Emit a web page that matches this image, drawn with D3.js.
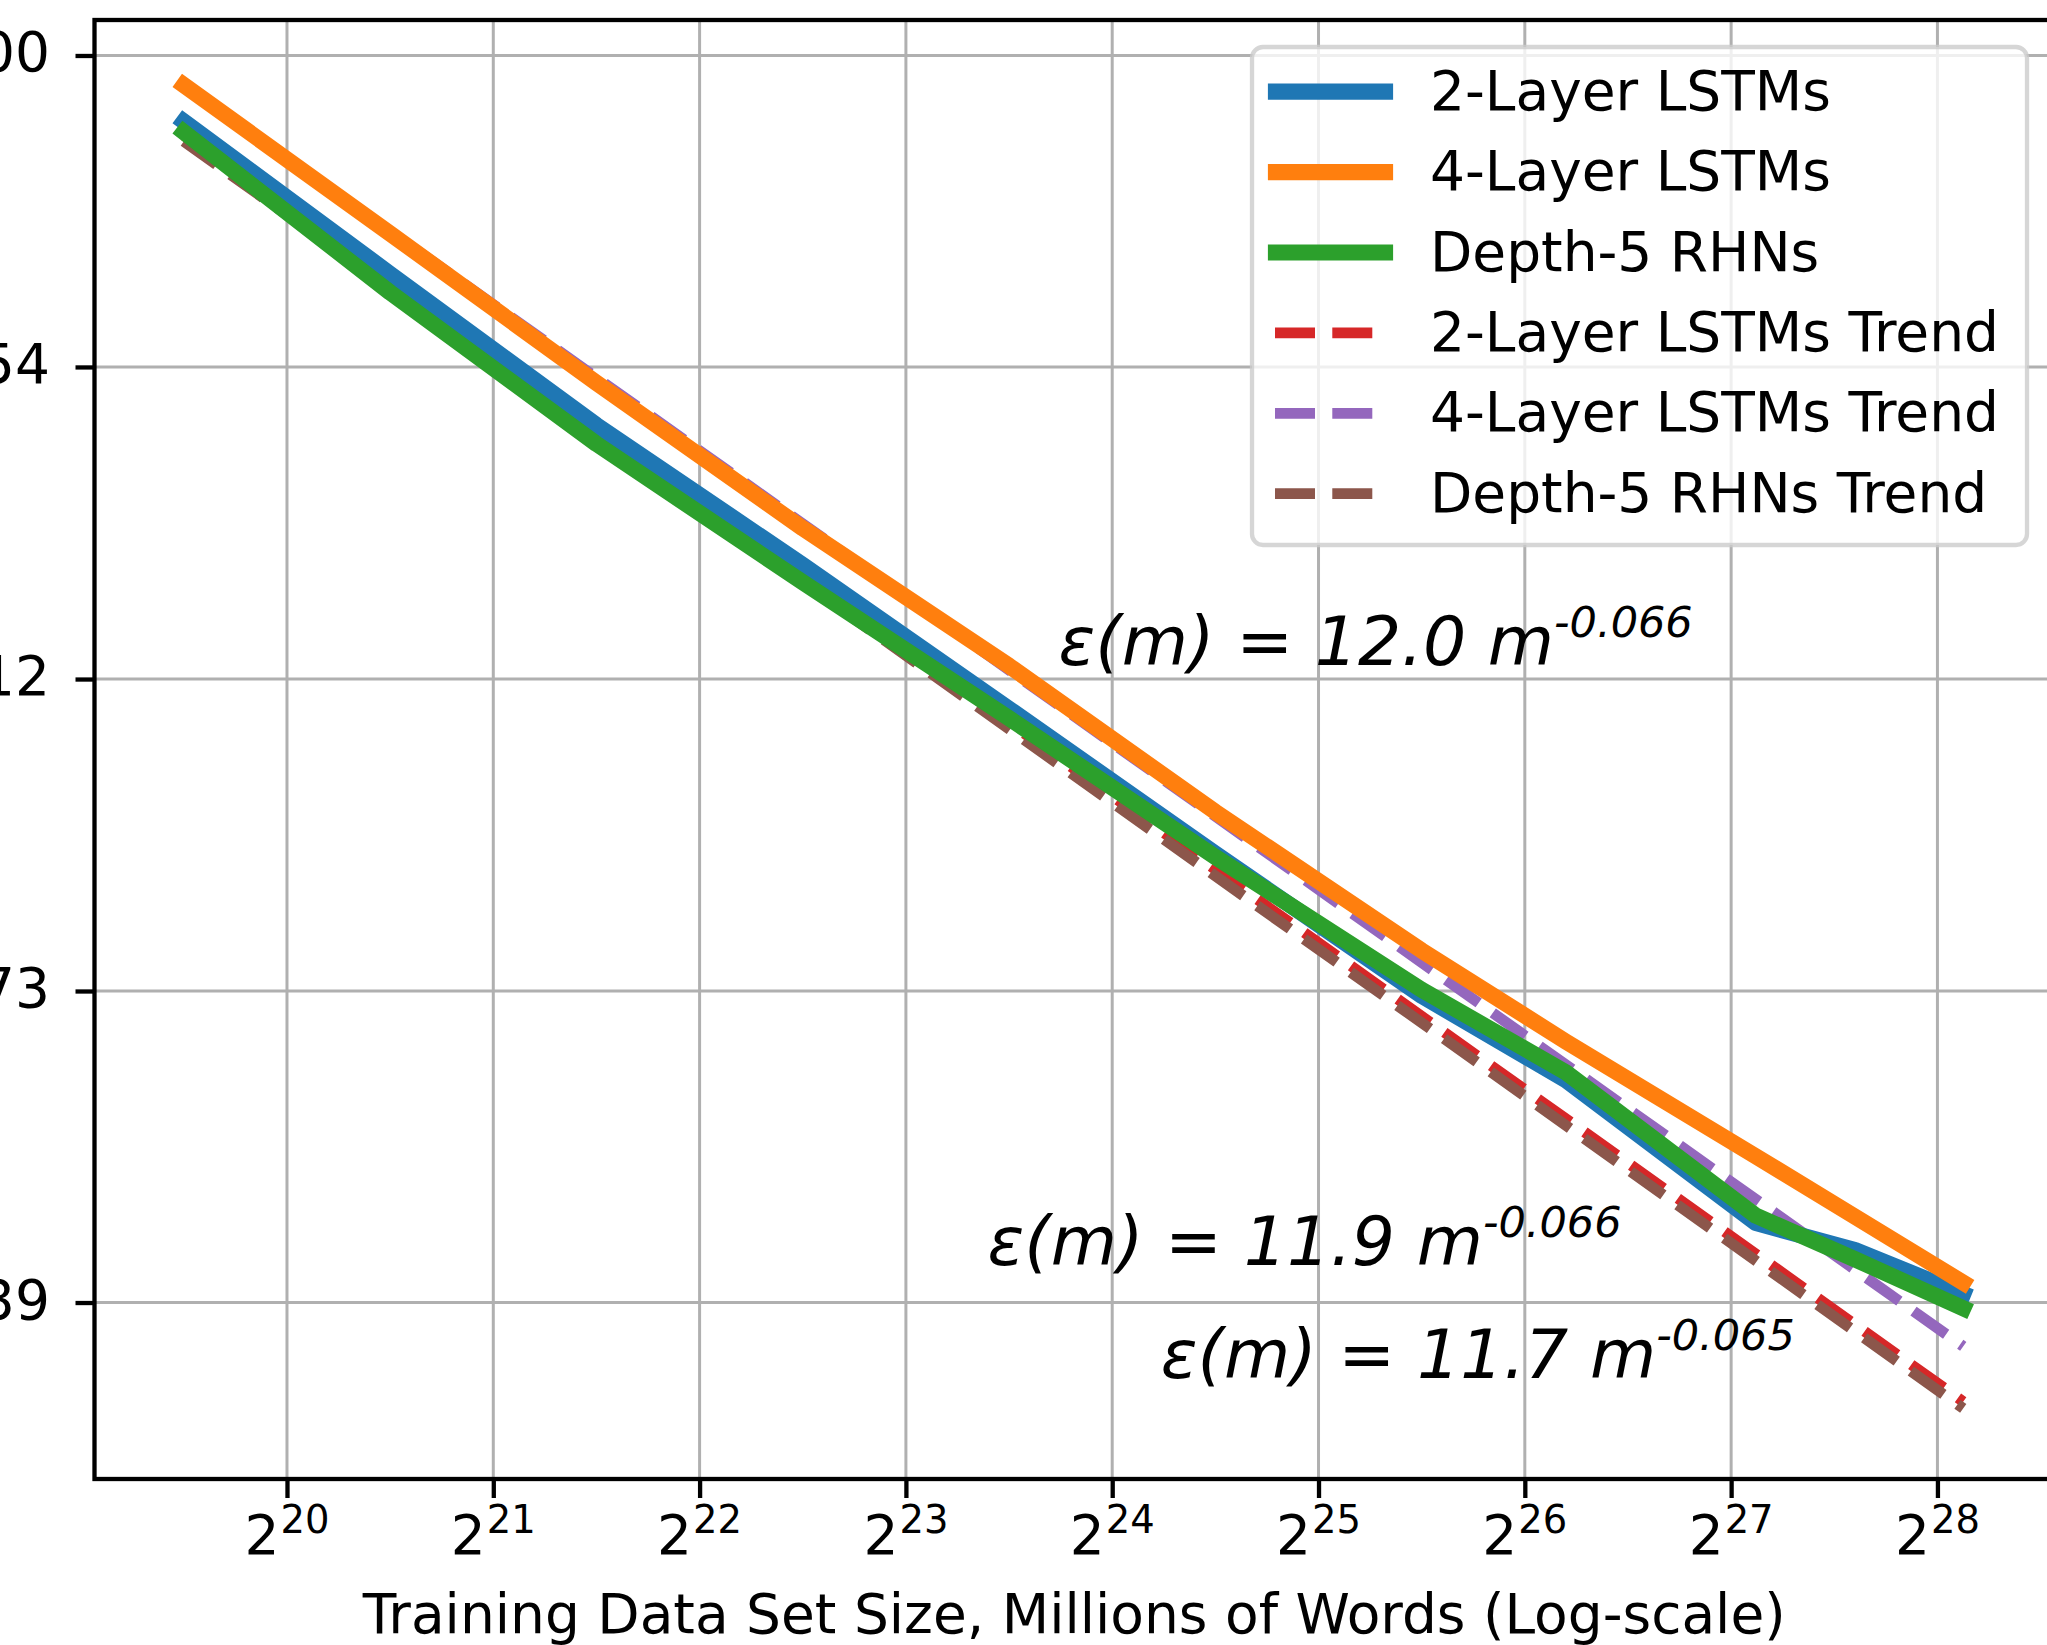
<!DOCTYPE html>
<html>
<head>
<meta charset="utf-8">
<script src="https://cdn.jsdelivr.net/npm/d3@7"></script>
<style>
  body { margin: 0; background: #fff; }
  svg { display: block; }
  text { font-family: "DejaVu Sans", sans-serif; fill: #000; }
</style>
</head>
<body>
<svg id="chart" width="2047" height="1645"></svg>
<script>
// ---------------- data ----------------
// training set sizes, as log2(words)
const sizeLog2 = [19.5, 20.5, 21.5, 22.5, 23.5, 24.5, 25.5, 26.2, 27.12, 27.6, 28.125];
const lstm2Values = [4.898, 4.671, 4.456, 4.266, 4.079, 3.899, 3.730, 3.633, 3.475, 3.446, 3.399];
const lstm4Values = [4.954, 4.730, 4.515, 4.315, 4.134, 3.950, 3.783, 3.677, 3.548, 3.482, 3.411];
const rhn5Values  = [4.882, 4.644, 4.430, 4.243, 4.067, 3.895, 3.737, 3.642, 3.483, 3.436, 3.384];

// fitted power-law trends (straight lines on log-log axes): start and end
const trendLog2 = [19.5, 28.125];
const lstm2Trend = [4.877, 3.287];
const lstm4Trend = [4.954, 3.344];
const rhn5Trend  = [4.868, 3.280];

const seriesNames = ["2-Layer LSTMs", "4-Layer LSTMs", "Depth-5 RHNs",
                     "2-Layer LSTMs Trend", "4-Layer LSTMs Trend", "Depth-5 RHNs Trend"];

const xTickExps = [20, 21, 22, 23, 24, 25, 26, 27, 28];
const yTickValues = [5.0, 4.5375, 4.117, 3.7356, 3.39];
const yTickLabels = ["5.00", "4.54", "4.12", "3.73", "3.39"];

const annotationBase = ["ε(m) = 12.0 m", "ε(m) = 11.9 m", "ε(m) = 11.7 m"];
const annotationExp  = ["-0.066", "-0.066", "-0.065"];
const xAxisLabel = "Training Data Set Size, Millions of Words (Log-scale)";

// ---------------- layout ----------------
const W = 2047, H = 1645;
const plot = { left: 94.5, right: 2054, top: 20, bottom: 1479 };
const FS = 55;

const x = d3.scaleLog().base(2).domain([Math.pow(2, 19.067), Math.pow(2, 28.565)]).range([plot.left, plot.right]);
const y = d3.scaleLog().domain([3.2086, 5.0556]).range([plot.bottom, plot.top]);

const svg = d3.select("#chart");
svg.append("rect").attr("width", W).attr("height", H).attr("fill", "#fff");

// grid
const grid = svg.append("g").attr("stroke", "#b0b0b0").attr("stroke-width", 3);
grid.selectAll("line.gx").data(xTickExps).enter().append("line")
  .attr("x1", d => x(Math.pow(2, d))).attr("x2", d => x(Math.pow(2, d)))
  .attr("y1", plot.top).attr("y2", plot.bottom);
grid.selectAll("line.gy").data(yTickValues).enter().append("line")
  .attr("x1", plot.left).attr("x2", plot.right)
  .attr("y1", d => y(d)).attr("y2", d => y(d));

// series
const colors = ["#1f77b4", "#ff7f0e", "#2ca02c", "#d62728", "#9467bd", "#8c564b"];
const series = [
  { name: seriesNames[0], xs: sizeLog2, ys: lstm2Values, color: colors[0], dashed: false },
  { name: seriesNames[1], xs: sizeLog2, ys: lstm4Values, color: colors[1], dashed: false },
  { name: seriesNames[2], xs: sizeLog2, ys: rhn5Values,  color: colors[2], dashed: false },
  { name: seriesNames[3], xs: trendLog2, ys: lstm2Trend, color: colors[3], dashed: true },
  { name: seriesNames[4], xs: trendLog2, ys: lstm4Trend, color: colors[4], dashed: true },
  { name: seriesNames[5], xs: trendLog2, ys: rhn5Trend,  color: colors[5], dashed: true }
];
const SOLID_W = 16.2, DASH_W = 10.8, DASH = "40,17.3";

const line = d3.line().x(d => x(Math.pow(2, d[0]))).y(d => y(d[1]));
const drawOrder = [3, 4, 5, 0, 2, 1];
const gLines = svg.append("g");
drawOrder.forEach(i => {
  const s = series[i];
  gLines.append("path")
    .datum(s.xs.map((v, k) => [v, s.ys[k]]))
    .attr("d", line)
    .attr("fill", "none")
    .attr("stroke", s.color)
    .attr("stroke-width", s.dashed ? DASH_W : SOLID_W)
    .attr("stroke-dasharray", s.dashed ? DASH : null)
    .attr("stroke-linecap", s.dashed ? "butt" : "square")
    .attr("stroke-linejoin", "round");
});

// annotations (placed in data coordinates)
const annPos = [[23.74, 4.135], [23.395, 3.430], [24.235, 3.311]];
annotationBase.forEach((t, i) => {
  const tx = svg.append("text")
    .attr("x", x(Math.pow(2, annPos[i][0])))
    .attr("y", y(annPos[i][1]))
    .attr("font-size", 68)
    .attr("font-style", "italic");
  tx.append("tspan").text(t);
  tx.append("tspan").attr("font-size", 43).attr("dy", -28).text(annotationExp[i]);
});

// spines
svg.append("rect")
  .attr("x", plot.left).attr("y", plot.top)
  .attr("width", plot.right - plot.left).attr("height", plot.bottom - plot.top)
  .attr("fill", "none").attr("stroke", "#000").attr("stroke-width", 4.3);

// x axis ticks
const xAxis = d3.axisBottom(x).tickValues(xTickExps.map(e => Math.pow(2, e))).tickSize(19).tickFormat(() => "");
const gx = svg.append("g").attr("transform", `translate(0,${plot.bottom})`).call(xAxis);
gx.select(".domain").remove();
gx.selectAll(".tick line").attr("stroke", "#000").attr("stroke-width", 4.3);
gx.selectAll(".tick text").remove();
xTickExps.forEach(e => {
  const t = svg.append("text")
    .attr("x", x(Math.pow(2, e)))
    .attr("y", 1554)
    .attr("text-anchor", "middle")
    .attr("font-size", FS);
  t.append("tspan").text("2");
  t.append("tspan").attr("font-size", FS * 0.7).attr("dy", -21).attr("dx", 1).text(String(e));
});

// y axis ticks
const yAxis = d3.axisLeft(y).tickValues(yTickValues).tickSize(19).tickFormat(() => "");
const gy = svg.append("g").attr("transform", `translate(${plot.left},0)`).call(yAxis);
gy.select(".domain").remove();
gy.selectAll(".tick line").attr("stroke", "#000").attr("stroke-width", 4.3);
gy.selectAll(".tick text").remove();
yTickValues.forEach((v, i) => {
  svg.append("text")
    .attr("x", 50)
    .attr("y", y(v) + 16)
    .attr("text-anchor", "end")
    .attr("font-size", FS)
    .text(yTickLabels[i]);
});

// x axis label
svg.append("text")
  .attr("x", (plot.left + plot.right) / 2)
  .attr("y", 1633)
  .attr("text-anchor", "middle")
  .attr("font-size", FS)
  .text(xAxisLabel);

// legend
const leg = svg.append("g");
leg.append("rect")
  .attr("x", 1252).attr("y", 47).attr("width", 775).attr("height", 498)
  .attr("rx", 11).attr("ry", 11)
  .attr("fill", "#fff").attr("fill-opacity", 0.8)
  .attr("stroke", "#cccccc").attr("stroke-opacity", 0.8).attr("stroke-width", 4.3);
series.forEach((s, i) => {
  const cy = 91.7 + i * 80.4;
  leg.append("line")
    .attr("x1", s.dashed ? 1275 : 1276).attr("x2", s.dashed ? 1372.3 : 1385)
    .attr("y1", cy).attr("y2", cy)
    .attr("stroke", s.color)
    .attr("stroke-width", s.dashed ? DASH_W : SOLID_W)
    .attr("stroke-dasharray", s.dashed ? DASH : null)
    .attr("stroke-linecap", s.dashed ? "butt" : "square");
  leg.append("text")
    .attr("x", 1430).attr("y", cy + 18)
    .attr("font-size", FS)
    .text(s.name);
});
</script>
</body>
</html>
